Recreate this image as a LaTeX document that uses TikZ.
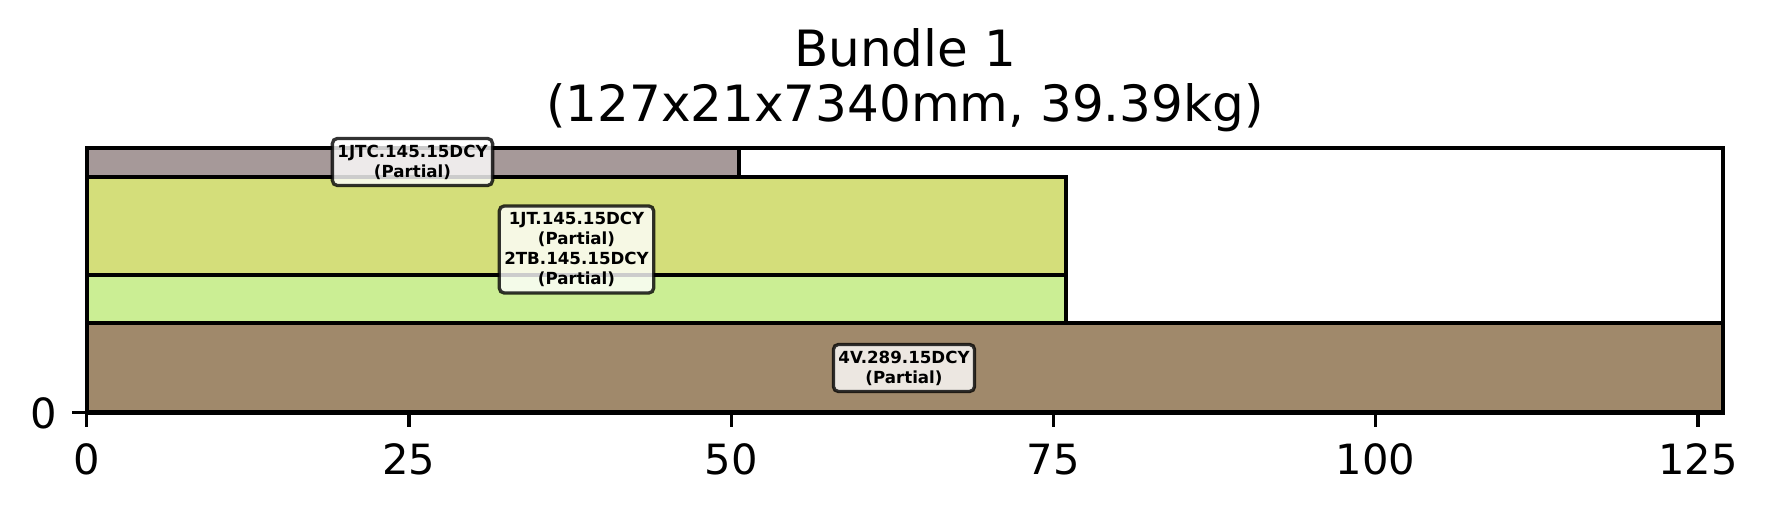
\documentclass[tikz,border=0pt]{standalone}
\usepackage{fontspec}
\setmainfont{DejaVu Sans}
\definecolor{cgray}{RGB}{166,153,153}
\definecolor{cyellow}{RGB}{212,222,122}
\definecolor{cgreen}{RGB}{203,238,148}
\definecolor{cbrown}{RGB}{160,137,107}
\begin{document}
\begin{tikzpicture}[x=0.24pt,y=-0.24pt,
  part/.style={draw=black,line width=1pt},
  spine/.style={draw=black,line width=0.8pt},
  tick/.style={draw=black,line width=0.8pt},
  ticklbl/.style={inner sep=0pt,font=\fontsize{10}{12}\selectfont},
  lbl/.style={draw=black,draw opacity=0.8,fill=white,fill opacity=0.8,text opacity=1,
    rounded corners=1.2pt,line width=0.8pt,align=center,inner xsep=1.2pt,inner ysep=1.5pt,
    font=\fontsize{4}{4.8}\selectfont\bfseries},
  ttl/.style={inner sep=0pt,anchor=base,font=\fontsize{12}{14.4}\selectfont}]
\useasboundingbox (0,0) rectangle (1766,514);
% parts
\filldraw[part,fill=cbrown] (86.7,323) rectangle (1723,412.5);
\filldraw[part,fill=cgreen] (86.7,275) rectangle (1066,323);
\filldraw[part,fill=cyellow] (86.7,177) rectangle (1066,275);
\filldraw[part,fill=cgray] (86.7,148) rectangle (739,177);
% axes frame
\draw[spine] (86.7,148) rectangle (1723,412.5);
% x ticks
\foreach \v/\n in {0/xa,25/xb,50/xc,75/xd,100/xe,125/xf}{
  \coordinate (\n t) at ({86.7+\v*12.89},412.5);
  \coordinate (\n b) at ({86.7+\v*12.89},427);
  \draw[tick] (\n t) -- (\n b);
  \node[ticklbl,anchor=base] (\n l) at ({86.7+\v*12.89},475) {\v};
}
% y tick
\coordinate (ya) at (86.7,412.5);
\coordinate (yb) at (72,412.5);
\draw[tick] (ya) -- (yb);
\node[ticklbl,anchor=base east] (yl) at (57.5,429) {0};
% labels
\node[lbl] (l1) at (412.5,162) {1JTC.145.15DCY\\(Partial)};
\node[lbl] (l2) at (576.5,249.5) {1JT.145.15DCY\\(Partial)\\2TB.145.15DCY\\(Partial)};
\node[lbl] (l3) at (904,368) {4V.289.15DCY\\(Partial)};
% title
\node[ttl] (t1) at (905,66.5) {Bundle 1};
\node[ttl] (t2) at (905,122) {(127x21x7340mm, 39.39kg)};
\end{tikzpicture}
\end{document}
